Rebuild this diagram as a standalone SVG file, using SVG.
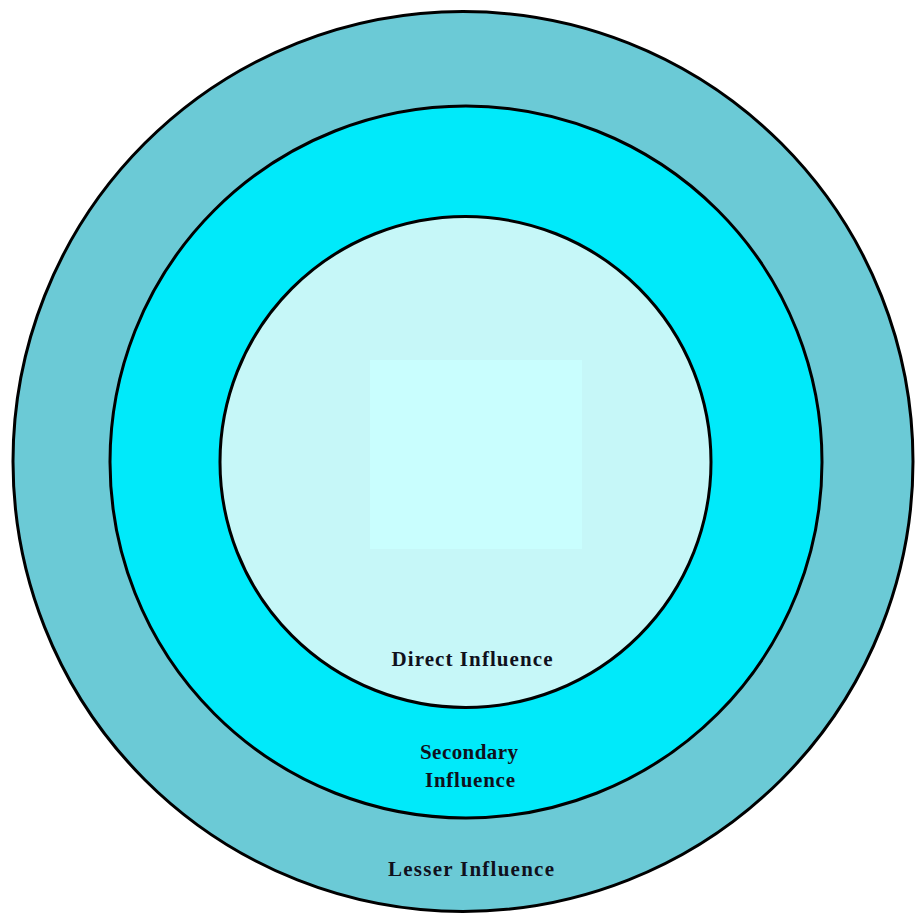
<svg xmlns="http://www.w3.org/2000/svg" width="915" height="913" viewBox="0 0 915 913">
<style>
.ring{stroke:#000;stroke-width:3}
.lbl{font-family:"Liberation Serif","Times New Roman",serif;font-weight:bold;font-size:21px;fill:#10101c;text-anchor:middle}
</style>
<rect width="915" height="913" fill="#fff"/>
<g id="lesser">
<circle class="ring" cx="463" cy="461.5" r="450" fill="#6BCAD6"/>
<text class="lbl" x="471" y="876" textLength="166" lengthAdjust="spacing">Lesser Influence</text>
</g>
<g id="secondary">
<circle class="ring" cx="466" cy="462" r="356" fill="#00EAFA"/>
<text class="lbl" x="469" y="759" textLength="98" lengthAdjust="spacing">Secondary</text>
<text class="lbl" x="470" y="787" textLength="90" lengthAdjust="spacing">Influence</text>
</g>
<g id="direct">
<circle class="ring" cx="465.5" cy="462" r="245.5" fill="#C6F7F8"/>
<rect x="370" y="360" width="212" height="189" fill="#C9FEFE"/>
<text class="lbl" x="472" y="666" textLength="161" lengthAdjust="spacing">Direct Influence</text>
</g>
<g id="connectors"/>
</svg>
